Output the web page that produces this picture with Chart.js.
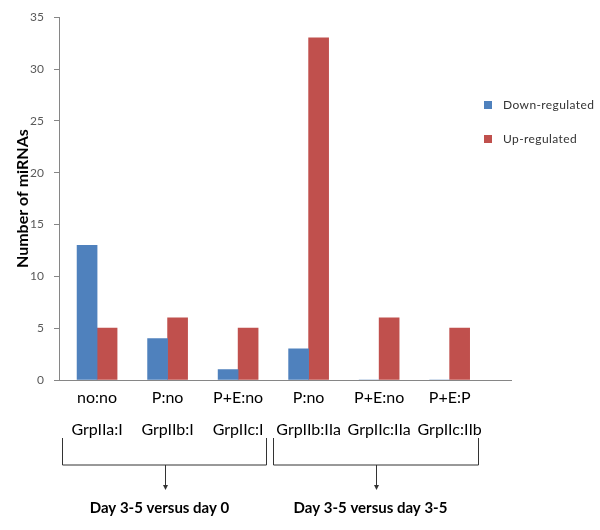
<!DOCTYPE html>
<html>
<head>
<meta charset="utf-8">
<script src="https://cdn.jsdelivr.net/npm/chart.js@4"></script>
<style>
  body { margin: 0; background: #fff; }
  #wrap { position: relative; width: 600px; height: 530px; }
  #legend { position: absolute; left: 484px; top: 96px; font: 12px Lato, sans-serif; color: #333; letter-spacing: 0.4px; }
  .item { display: flex; align-items: center; height: 17px; margin-bottom: 17px; }
  .swatch { width: 8px; height: 8px; margin-right: 11px; }
</style>
</head>
<body>
<div id="wrap">
  <canvas id="chart"></canvas>
  <div id="legend"></div>
</div>
<script>
// tick labels, two lines per category
const labelsTop = ['no:no', 'P:no', 'P+E:no', 'P:no', 'P+E:no', 'P+E:P'];
const labelsBottom = ['GrpIIa:I', 'GrpIIb:I', 'GrpIIc:I', 'GrpIIb:IIa', 'GrpIIc:IIa', 'GrpIIc:IIb'];

const seriesNames = ['Down-regulated', 'Up-regulated'];
const seriesColors = ['#4F81BD', '#C0504D'];
const downValues = [13, 4, 1, 3, 0, 0];
const upValues = [5, 6, 5, 33, 6, 5];

const yTicks = [0, 5, 10, 15, 20, 25, 30, 35];

// brackets under the axis: which categories each one groups
const groupNames = ['Day 3-5 versus day 0', 'Day 3-5 versus day 3-5'];
const groupFrom = [0, 3];
const groupTo = [2, 5];

const axisGrey = '#868686';

// legend
document.getElementById('legend').innerHTML = seriesNames.map((name, i) =>
    `<div class="item"><div class="swatch" style="background:${seriesColors[i]}"></div>${name}</div>`
).join('');

const bracketPlugin = {
    id: 'brackets',
    afterDraw(chart) {
        const ctx = chart.ctx;
        const x = chart.scales.x;
        const base = chart.chartArea.bottom;
        const step = x.getPixelForValue(1) - x.getPixelForValue(0);
        ctx.save();
        ctx.strokeStyle = '#333';
        ctx.fillStyle = '#333';
        ctx.lineWidth = 1;
        groupNames.forEach((name, i) => {
            const left = Math.round(x.getPixelForValue(groupFrom[i]) - step * 0.5) + 0.5;
            const right = Math.round(x.getPixelForValue(groupTo[i]) + step * 0.4) + 0.5;
            const mid = Math.round((left + right) / 2) + 0.5;
            const top = base + 58, bot = base + 85, tip = base + 110;
            ctx.beginPath();
            ctx.moveTo(left, top);
            ctx.lineTo(left, bot);
            ctx.lineTo(right, bot);
            ctx.lineTo(right, top);
            ctx.moveTo(mid, bot);
            ctx.lineTo(mid, tip - 4);
            ctx.stroke();
            ctx.beginPath();
            ctx.moveTo(mid - 2.5, tip - 5);
            ctx.lineTo(mid + 2.5, tip - 5);
            ctx.lineTo(mid, tip);
            ctx.closePath();
            ctx.fill();
            ctx.fillStyle = '#000';
            ctx.font = 'bold 15px Lato, sans-serif';
            ctx.textAlign = 'center';
            ctx.textBaseline = 'middle';
            ctx.fillText(name, mid - 6, base + 128);
            ctx.fillStyle = '#333';
        });
        ctx.restore();
    }
};

new Chart(document.getElementById('chart'), {
    type: 'bar',
    data: {
        datasets: [
            {
                label: seriesNames[0],
                data: downValues.map((v, i) => ({ x: i, y: v })),
                backgroundColor: seriesColors[0]
            },
            {
                label: seriesNames[1],
                data: upValues.map((v, i) => ({ x: i, y: v })),
                backgroundColor: seriesColors[1]
            }
        ]
    },
    options: {
        responsive: true,
        maintainAspectRatio: false,
        animation: false,
        barThickness: 20,
        layout: { padding: { top: 15, right: 89, left: 0, bottom: 0 } },
        plugins: {
            legend: { display: false },
            tooltip: { enabled: false }
        },
        scales: {
            x: {
                type: 'linear',
                offset: false,
                min: -0.54,
                max: 5.87,
                afterFit: s => { s.height = 150; },
                afterBuildTicks: s => { s.ticks = labelsTop.map((_, i) => ({ value: i })); },
                grid: { display: false },
                border: { display: true, color: axisGrey },
                ticks: {
                    autoSkip: false,
                    maxRotation: 0,
                    padding: -6,
                    color: '#000',
                    font: { family: 'Lato', size: 16, lineHeight: 2.0 },
                    callback: v => [labelsTop[v], labelsBottom[v]]
                }
            },
            y: {
                min: 0,
                max: 35,
                afterFit: s => { s.width = 59; },
                afterBuildTicks: s => { s.ticks = yTicks.map(v => ({ value: v })); },
                grid: { drawOnChartArea: false, tickLength: 5, color: axisGrey },
                border: { color: axisGrey },
                ticks: {
                    padding: 10,
                    color: '#595959',
                    font: { family: 'Lato', size: 12 }
                },
                title: {
                    display: true,
                    text: 'Number of miRNAs',
                    color: '#000',
                    font: { family: 'Lato', size: 16, weight: 'bold' },
                    padding: { top: 13, bottom: 0 }
                }
            }
        }
    },
    plugins: [bracketPlugin]
});
</script>
</body>
</html>
